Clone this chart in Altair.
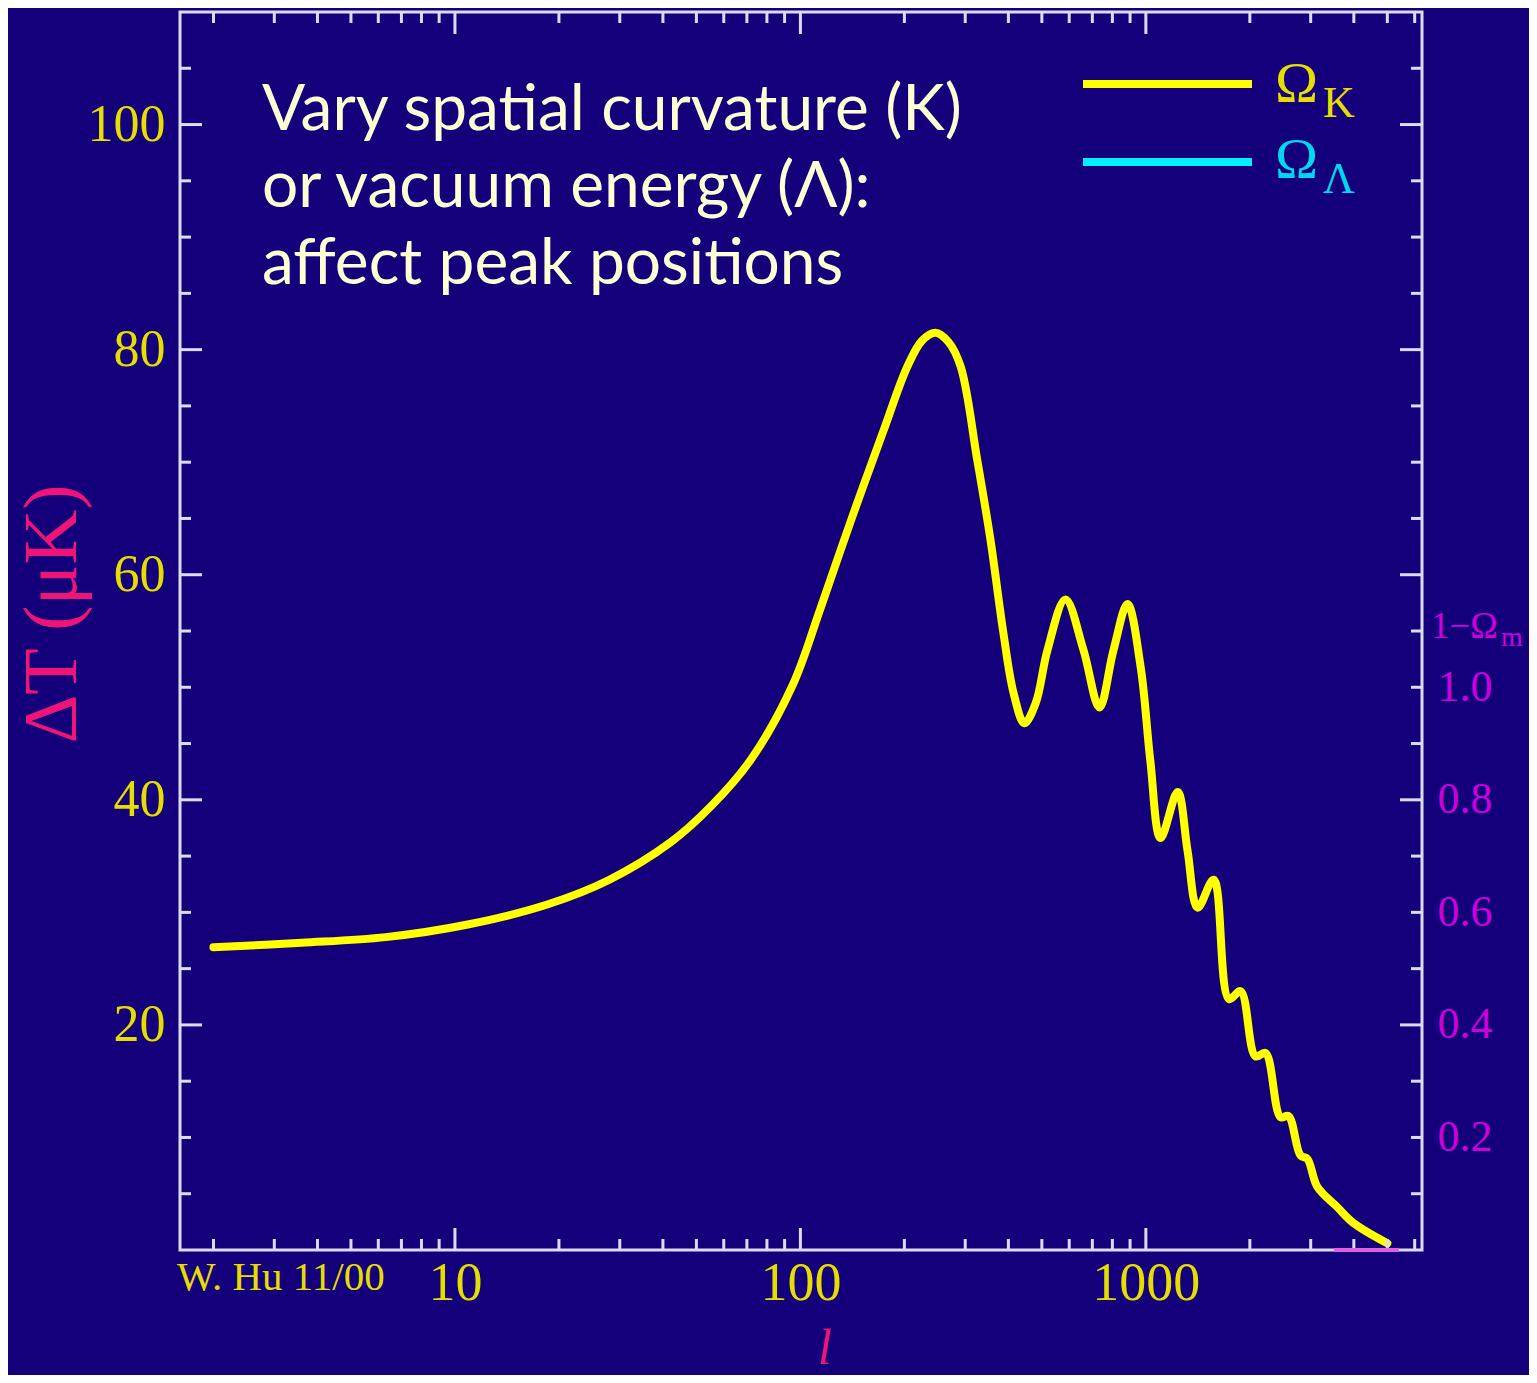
import altair as alt
import pandas as pd

# ---- data ----
ell = [2, 3.6, 6.3, 10.8, 18.5, 28, 42, 55, 72, 95, 114, 140, 174, 204, 225, 246,
       268, 291, 325, 355, 387, 414, 445, 480, 519, 585, 660, 734, 806, 885, 966,
       1030, 1103, 1236, 1320, 1412, 1571, 1740, 1880, 2077, 2220, 2453, 2588,
       2802, 2935, 3138, 3585, 3989, 5000]
dT = [26.9, 27.3, 27.8, 28.9, 30.7, 32.9, 36.2, 39.4, 43.6, 50.2, 56.9, 64.8,
      72.8, 78.5, 80.8, 81.5, 80.7, 78.5, 70.2, 63.1, 54.8, 49.5, 46.8, 48.6,
      53.3, 57.8, 53.3, 48.2, 53.3, 57.4, 51.8, 43.5, 36.6, 40.7, 35.5, 30.4,
      32.9, 22.3, 23.0, 17.2, 17.5, 11.8, 11.9, 8.4, 8.1, 5.6, 3.8, 2.4, 0.6]

omega_l = [3500, 5400]
omega_v = [0, 0]

x_labels = [10, 100, 1000]
x_ticks_major = [10, 100, 1000]
x_ticks_minor = [2, 3, 4, 5, 6, 7, 8, 9, 20, 30, 40, 50, 60, 70, 80, 90,
                 200, 300, 400, 500, 600, 700, 800, 900, 2000, 3000, 4000, 5000, 6000]
y_labels = [20, 40, 60, 80, 100]
y_ticks_major = [20, 40, 60, 80, 100]
y_ticks_minor = [5, 10, 15, 25, 30, 35, 45, 50, 55, 65, 70, 75, 85, 90, 95, 105]
right_labels = [0.2, 0.4, 0.6, 0.8, 1.0]

annotation = ["Vary spatial curvature (K)", "or vacuum energy (Λ):", "affect peak positions"]

# ---- style ----
W, H = 1242, 1238
BG = "#14007A"
FRAME = "#DCDCF0"
YEL = "#FFFF00"
LABEL_Y = "#E6DE00"
CYAN = "#00F0FF"
CYAN_T = "#00D8F0"
MAG = "#CC00DD"
PINK = "#F01478"
SERIF = "Liberation Serif"

xscale = alt.Scale(type="log", domain=[1.6, 6300], nice=False)
yscale = alt.Scale(domain=[0, 110], nice=False, zero=False)
one = pd.DataFrame({"a": [0]})

xaxis = alt.Axis(
    values=x_labels, format="d", title=None, ticks=False, domain=False, grid=False,
    labelFont=SERIF, labelFontSize=54, labelColor=LABEL_Y, labelPadding=6,
    labelOverlap=False, labelFlush=False)
yaxis = alt.Axis(
    values=y_labels, format="d", title=None, ticks=False, domain=False, grid=False,
    labelFont=SERIF, labelFontSize=52, labelColor=LABEL_Y, labelPadding=15,
    labelOverlap=False, labelFlush=False)

curve = alt.Chart(pd.DataFrame({"l": ell, "dT": dT})).mark_line(
    color=YEL, strokeWidth=8, interpolate="catmull-rom", strokeCap="round", clip=True
).encode(
    x=alt.X("l:Q", scale=xscale, axis=xaxis),
    y=alt.Y("dT:Q", scale=yscale, axis=yaxis),
)


def xticks(vals, length, top):
    if top:
        ys = dict(y=alt.value(0), y2=alt.value(length))
    else:
        ys = dict(y=alt.value(H), y2=alt.value(H - length))
    return alt.Chart(pd.DataFrame({"v": vals})).mark_rule(color=FRAME, strokeWidth=3).encode(
        x=alt.X("v:Q", scale=xscale, axis=xaxis), **ys)


def yticks(vals, length, right):
    if right:
        xs = dict(x=alt.value(W), x2=alt.value(W - length))
    else:
        xs = dict(x=alt.value(0), x2=alt.value(length))
    return alt.Chart(pd.DataFrame({"v": vals})).mark_rule(color=FRAME, strokeWidth=3).encode(
        y=alt.Y("v:Q", scale=yscale, axis=yaxis), **xs)


def text(t, x, y, size, color, font=SERIF, **kw):
    return alt.Chart(one).mark_text(
        text=t, font=font, fontSize=size, color=color, align=kw.pop("align", "left"),
        baseline=kw.pop("baseline", "alphabetic"), **kw
    ).encode(x=alt.value(x), y=alt.value(y))


ticks = [
    xticks(x_ticks_major, 22, False), xticks(x_ticks_minor, 11, False),
    xticks(x_ticks_major, 22, True), xticks(x_ticks_minor, 11, True),
    yticks(y_ticks_major, 22, False), yticks(y_ticks_minor, 11, False),
    yticks(y_ticks_major, 22, True), yticks(y_ticks_minor, 11, True),
]

legend_lines = [
    alt.Chart(one).mark_rule(color=YEL, strokeWidth=8).encode(
        x=alt.value(903), x2=alt.value(1072), y=alt.value(72)),
    alt.Chart(one).mark_rule(color=CYAN, strokeWidth=8).encode(
        x=alt.value(903), x2=alt.value(1072), y=alt.value(150)),
]

texts = [
    text(annotation, 82, 118, 64, "#FFFFD4", font="Lato", lineHeight=77),
    text("Ω", 1095, 90, 58, LABEL_Y),
    text("K", 1143, 105, 44, LABEL_Y),
    text("Ω", 1095, 166, 58, CYAN_T),
    text("Λ", 1143, 181, 44, CYAN_T),
    text("1−Ω", 1251, 626, 37, MAG),
    text("m", 1321, 634, 28, MAG),
    text("W. Hu 11/00", -3, 1278, 41, LABEL_Y),
    text("ΔT (μK)", -127, 602, 76, PINK, angle=270, align="center", baseline="middle"),
    text("l", 645, 1352, 50, PINK, fontStyle="italic", align="center"),
]

main = alt.layer(curve, *ticks, *legend_lines, *texts)

right = alt.Chart(pd.DataFrame({"l": omega_l, "v": omega_v})).mark_line(
    color="#E060E0", strokeWidth=4
).encode(
    x=alt.X("l:Q", scale=xscale, axis=xaxis),
    y=alt.Y("v:Q", scale=alt.Scale(domain=[0, 2.2], nice=False, zero=False), axis=alt.Axis(
        orient="right", values=right_labels, format=".1f", title=None, ticks=False,
        domain=False, grid=False, labelFont=SERIF, labelFontSize=44, labelColor=MAG,
        labelPadding=15, labelOverlap=False, labelFlush=False)),
)

chart = alt.layer(main, right).resolve_scale(y="independent").properties(
    width=W, height=H,
    autosize=alt.AutoSizeParams(type="none"),
    padding={"left": 172, "top": 4, "right": 107, "bottom": 125},
).configure(background=BG).configure_view(stroke=FRAME, strokeWidth=3)

chart.save("out.html", embed_options={"renderer": "svg", "actions": False})
